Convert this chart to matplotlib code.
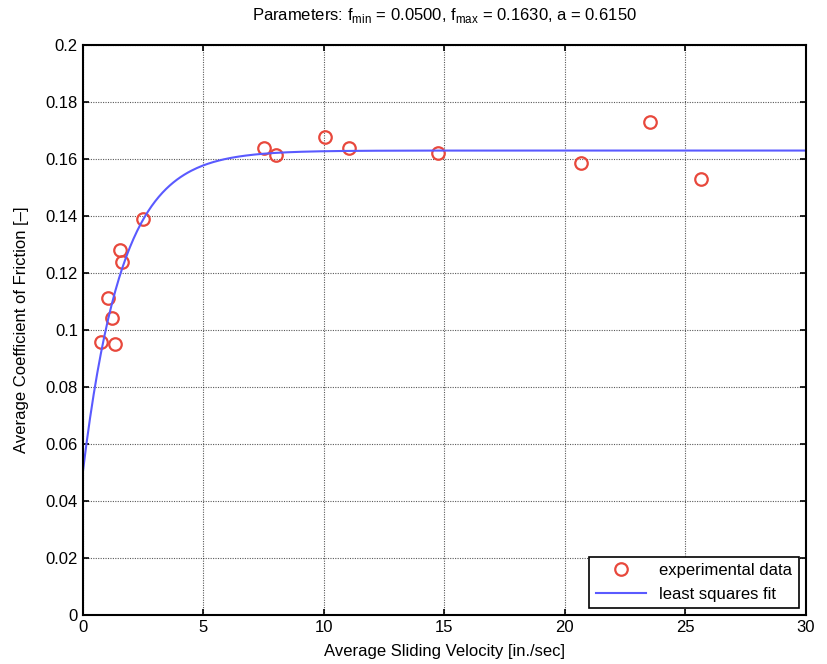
import numpy as np
import matplotlib.pyplot as plt

plt.rcParams['font.family'] = ['Liberation Sans', 'DejaVu Sans']

# experimental data
velocity = [0.75, 1.04, 1.2, 1.33, 1.54, 1.62, 2.49, 7.51, 8.0, 10.04, 11.04, 14.73, 20.66, 23.53, 25.64]
friction = [0.0958, 0.1112, 0.1042, 0.0951, 0.128, 0.1239, 0.139, 0.164, 0.1614, 0.1677, 0.164, 0.162, 0.1586, 0.173, 0.153]

# fitted parameters
f_min = 0.05
f_max = 0.163
a = 0.615

v_fit = np.linspace(0, 30, 400)
f_fit = f_max - (f_max - f_min) * np.exp(-a * v_fit)

fig = plt.figure(figsize=(8.28, 6.64), dpi=100)
ax = fig.add_axes([0.100, 0.074, 0.873, 0.858])

ax.plot(velocity, friction, 'o', mfc='none', mec='#e8483c', mew=1.6, ms=9,
        label='experimental data')
ax.plot(v_fit, f_fit, color='#5a5aff', lw=1.5, label='least squares fit')

ax.set_xlim(0, 30)
ax.set_ylim(0, 0.2)
ax.set_xticks(np.arange(0, 31, 5))
ax.set_yticks(np.arange(0, 0.201, 0.02))
ax.set_yticklabels(['0', '0.02', '0.04', '0.06', '0.08', '0.1', '0.12', '0.14', '0.16', '0.18', '0.2'])
ax.grid(True, color='black', linestyle=(0, (1, 1.2)), linewidth=0.8, alpha=0.65)
ax.tick_params(direction='in', top=True, right=True, labelsize=12, length=4, width=1.2)
for s in ax.spines.values():
    s.set_linewidth(1.5)

ax.set_xlabel('Average Sliding Velocity [in./sec]', fontsize=12, labelpad=7)
ax.set_ylabel('Average Coefficient of Friction [\u2013]', fontsize=12, labelpad=12)
ax.set_title('Parameters: f$_{\\mathregular{min}}$ = %.4f, f$_{\\mathregular{max}}$ = %.4f, a = %.4f'
             % (f_min, f_max, a), fontsize=12, pad=18)

leg = ax.legend(loc='lower right', fontsize=12, fancybox=False, framealpha=1,
                edgecolor='black', handlelength=3, borderaxespad=0.4)
leg.get_frame().set_linewidth(1.2)

fig.savefig('out.png', dpi=100)
